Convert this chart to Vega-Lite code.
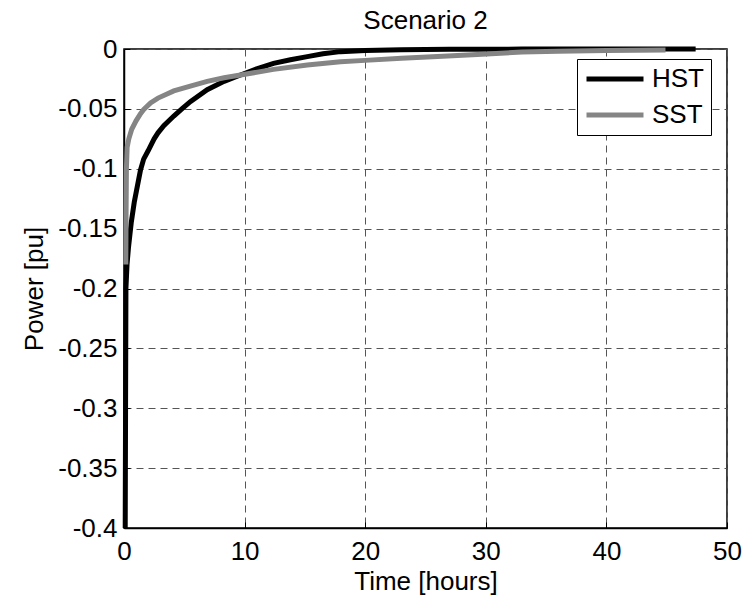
{
  "$schema": "https://vega.github.io/schema/vega-lite/v6.json",
  "width": 603,
  "height": 479,
  "autosize": {"type": "none"},
  "padding": {"left": 124, "top": 49, "right": 21, "bottom": 71},
  "background": "white",
  "title": {
    "text": "Scenario 2",
    "font": "Liberation Sans",
    "fontSize": 26,
    "fontWeight": "normal",
    "color": "#000000",
    "anchor": "middle",
    "offset": 2
  },
  "config": {
    "view": {"stroke": "#000000", "strokeWidth": 1.5},
    "axis": {
      "domainColor": "#000000",
      "domainWidth": 1.5,
      "tickColor": "#000000",
      "tickSize": -6,
      "labelColor": "#000000",
      "titleColor": "#000000",
      "labelFont": "Liberation Sans",
      "titleFont": "Liberation Sans",
      "labelFontSize": 26,
      "titleFontSize": 26,
      "titleFontWeight": "normal",
      "labelFlush": false,
      "gridColor": "#555555",
      "gridDash": [7, 5],
      "gridOpacity": 1,
      "gridWidth": 1
    }
  },
  "data": {
    "values": [
      {"series": "HST", "t": 0.1, "p": -0.4},
      {"series": "HST", "t": 0.13, "p": -0.3},
      {"series": "HST", "t": 0.16, "p": -0.2},
      {"series": "HST", "t": 0.25, "p": -0.18},
      {"series": "HST", "t": 0.37, "p": -0.166},
      {"series": "HST", "t": 0.6, "p": -0.145},
      {"series": "HST", "t": 0.85, "p": -0.128},
      {"series": "HST", "t": 1.37, "p": -0.101},
      {"series": "HST", "t": 1.63, "p": -0.092},
      {"series": "HST", "t": 2.0, "p": -0.085},
      {"series": "HST", "t": 2.5, "p": -0.075},
      {"series": "HST", "t": 2.82, "p": -0.07},
      {"series": "HST", "t": 3.3, "p": -0.064},
      {"series": "HST", "t": 4.13, "p": -0.056},
      {"series": "HST", "t": 4.8, "p": -0.05},
      {"series": "HST", "t": 5.5, "p": -0.044},
      {"series": "HST", "t": 6.9, "p": -0.034},
      {"series": "HST", "t": 8.3, "p": -0.027},
      {"series": "HST", "t": 9.66, "p": -0.0217},
      {"series": "HST", "t": 11.0, "p": -0.0165},
      {"series": "HST", "t": 12.4, "p": -0.012},
      {"series": "HST", "t": 13.8, "p": -0.009},
      {"series": "HST", "t": 15.2, "p": -0.0064},
      {"series": "HST", "t": 16.5, "p": -0.004},
      {"series": "HST", "t": 17.95, "p": -0.0022},
      {"series": "HST", "t": 20.0, "p": -0.0012},
      {"series": "HST", "t": 23.0, "p": -0.0006},
      {"series": "HST", "t": 27.0, "p": -0.0003},
      {"series": "HST", "t": 33.0, "p": -0.0001},
      {"series": "HST", "t": 40.0, "p": 0},
      {"series": "HST", "t": 47.4, "p": 0},
      {"series": "SST", "t": 0.15, "p": -0.18},
      {"series": "SST", "t": 0.17, "p": -0.14},
      {"series": "SST", "t": 0.2, "p": -0.1},
      {"series": "SST", "t": 0.26, "p": -0.082},
      {"series": "SST", "t": 0.4, "p": -0.075},
      {"series": "SST", "t": 0.64, "p": -0.067},
      {"series": "SST", "t": 1.0, "p": -0.06},
      {"series": "SST", "t": 1.37, "p": -0.054},
      {"series": "SST", "t": 1.64, "p": -0.0505},
      {"series": "SST", "t": 2.2, "p": -0.045},
      {"series": "SST", "t": 2.82, "p": -0.041},
      {"series": "SST", "t": 4.13, "p": -0.035},
      {"series": "SST", "t": 5.5, "p": -0.031},
      {"series": "SST", "t": 6.9, "p": -0.027},
      {"series": "SST", "t": 8.3, "p": -0.024},
      {"series": "SST", "t": 9.66, "p": -0.0217},
      {"series": "SST", "t": 12.4, "p": -0.017},
      {"series": "SST", "t": 15.2, "p": -0.0134},
      {"series": "SST", "t": 17.95, "p": -0.0106},
      {"series": "SST", "t": 20.0, "p": -0.0095},
      {"series": "SST", "t": 23.0, "p": -0.0078},
      {"series": "SST", "t": 26.0, "p": -0.0062},
      {"series": "SST", "t": 29.3, "p": -0.0045},
      {"series": "SST", "t": 33.0, "p": -0.0025},
      {"series": "SST", "t": 36.0, "p": -0.0018},
      {"series": "SST", "t": 40.0, "p": -0.0012},
      {"series": "SST", "t": 44.9, "p": -0.0008}
    ]
  },
  "mark": {"type": "line", "strokeWidth": 5, "clip": false},
  "encoding": {
    "x": {
      "field": "t",
      "type": "quantitative",
      "scale": {"domain": [0, 50], "nice": false, "zero": false},
      "axis": {
        "values": [0, 10, 20, 30, 40, 50],
        "title": "Time [hours]",
        "labelPadding": 16,
        "titlePadding": 4
      }
    },
    "y": {
      "field": "p",
      "type": "quantitative",
      "scale": {"domain": [-0.4, 0], "nice": false, "zero": false},
      "axis": {
        "values": [-0.4, -0.35, -0.3, -0.25, -0.2, -0.15, -0.1, -0.05, 0],
        "labelExpr": "'' + datum.value",
        "title": "Power [pu]",
        "labelPadding": 13,
        "titlePadding": 10
      }
    },
    "color": {
      "field": "series",
      "type": "nominal",
      "scale": {"domain": ["HST", "SST"], "range": ["#000000", "#858585"]},
      "legend": {
        "title": null,
        "orient": "none",
        "legendX": 453,
        "legendY": 10,
        "strokeColor": "#000000",
        "fillColor": "#ffffff",
        "cornerRadius": 0,
        "padding": 7,
        "clipHeight": 26,
        "symbolType": "stroke",
        "symbolSize": 3249,
        "symbolStrokeWidth": 5,
        "labelFont": "Liberation Sans",
        "labelFontSize": 26,
        "labelColor": "#000000",
        "labelOffset": 6,
        "rowPadding": 10
      }
    }
  }
}
